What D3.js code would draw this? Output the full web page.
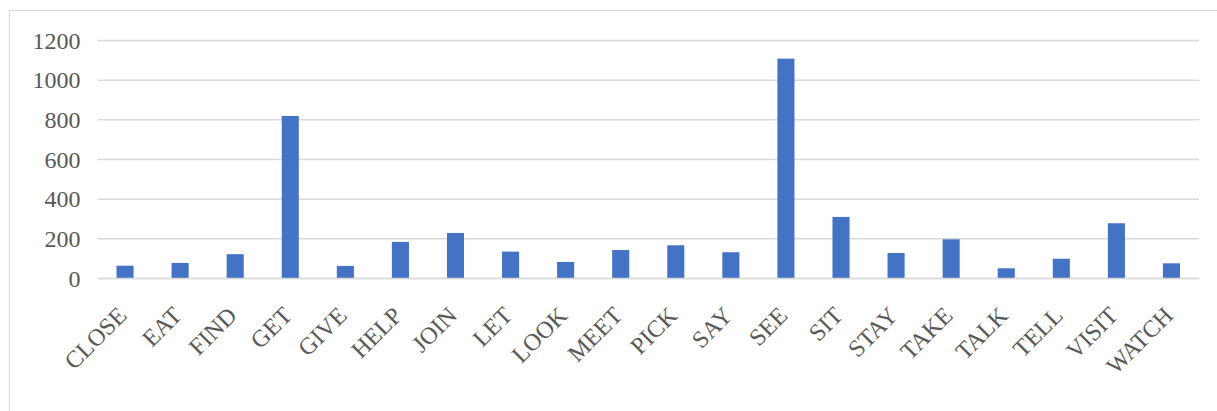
<!DOCTYPE html>
<html>
<head>
<meta charset="utf-8">
<script src="https://cdn.jsdelivr.net/npm/d3@7"></script>
<style>
  html, body { margin: 0; padding: 0; background: #ffffff; }
  svg { display: block; }
</style>
</head>
<body>
<svg id="chart" width="1217" height="411"></svg>
<script>
const categories = ["CLOSE","EAT","FIND","GET","GIVE","HELP","JOIN","LET","LOOK","MEET","PICK","SAY","SEE","SIT","STAY","TAKE","TALK","TELL","VISIT","WATCH"];
const values = [62, 76, 120, 817, 61, 182, 227, 133, 81, 141, 165, 130, 1106, 308, 126, 195, 49, 97, 276, 74];
const yTicks = [0, 200, 400, 600, 800, 1000, 1200];

const svg = d3.select("#chart");
const W = 1217, H = 411;
const margin = { left: 97.5, right: 18, top: 40, bottom: 133 };
const plotL = margin.left, plotR = W - margin.right;
const plotT = margin.top, plotB = H - margin.bottom;

// chart frame
svg.append("rect")
  .attr("x", 9.5).attr("y", 10.5)
  .attr("width", 1220).attr("height", 420)
  .attr("fill", "#ffffff")
  .attr("stroke", "#d9d9d9").attr("stroke-width", 1.2);

const x = d3.scaleBand().domain(categories).range([plotL, plotR]).paddingInner(0.69).paddingOuter(0.345);
const y = d3.scaleLinear().domain([0, 1200]).range([plotB, plotT]);

const font = "'Liberation Serif', 'DejaVu Serif', serif";

// gridlines
const yAxis = d3.axisLeft(y).tickValues(yTicks).tickSize(-(plotR - plotL)).tickFormat(d3.format("d"));
const gy = svg.append("g").attr("transform", `translate(${plotL},0)`).call(yAxis);
gy.select(".domain").remove();
gy.selectAll(".tick line").attr("stroke", "#d9d9d9").attr("stroke-width", 1.5);
gy.selectAll(".tick text")
  .attr("x", -17)
  .attr("dy", "0.34em")
  .attr("fill", "#595959")
  .style("font-family", font)
  .style("font-size", "24px");

// bars
svg.append("g").selectAll("rect")
  .data(categories.map((c, i) => ({ c, v: values[i] })))
  .join("rect")
  .attr("x", d => x(d.c))
  .attr("y", d => y(d.v))
  .attr("width", x.bandwidth())
  .attr("height", d => y(0) - y(d.v))
  .attr("fill", "#4472c4");

// x axis
const xAxis = d3.axisBottom(x).tickSize(0).tickSizeOuter(0);
const gx = svg.append("g").attr("transform", `translate(0,${plotB})`).call(xAxis);
gx.select(".domain").attr("stroke", "#d9d9d9").attr("stroke-width", 1.5);
gx.selectAll(".tick text")
  .attr("text-anchor", "end")
  .attr("fill", "#595959")
  .style("font-family", font)
  .style("font-size", "24px")
  .attr("y", 0)
  .attr("dy", 0)
  .attr("transform", "translate(3,39) rotate(-45)");
</script>
</body>
</html>
